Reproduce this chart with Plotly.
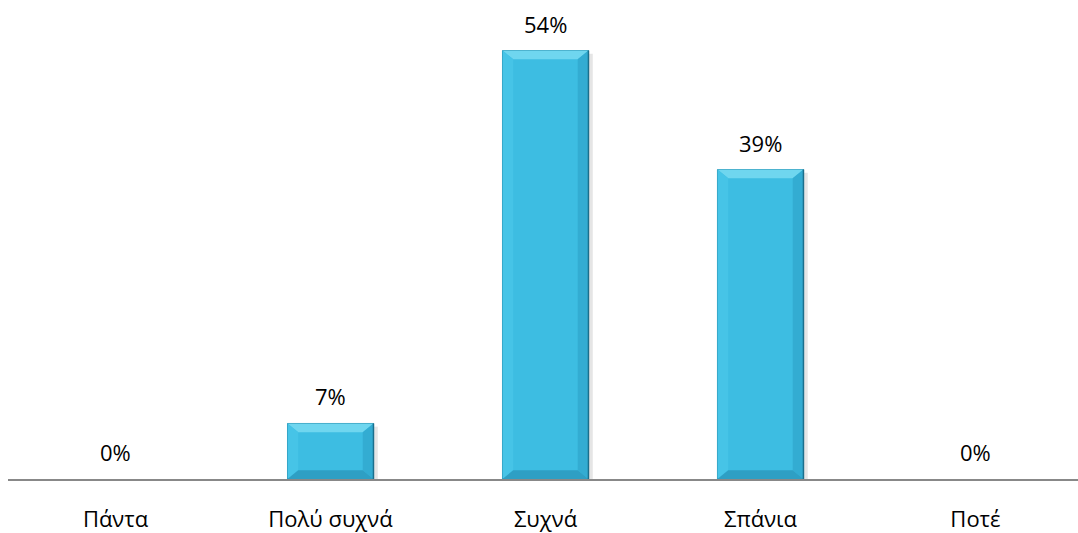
import plotly.graph_objects as go

categories = ["Πάντα", "Πολύ συχνά", "Συχνά", "Σπάνια", "Ποτέ"]
values = [0, 7, 54, 39, 0]
labels = ["0%", "7%", "54%", "39%", "0%"]

FONT = "'Open Sans', sans-serif"
BAR_W = 0.4
fig = go.Figure()

fig.add_trace(go.Bar(
    x=categories, y=values, width=BAR_W,
    marker=dict(color="#3dbde2",
                line=dict(color="#2288a8", width=[0 if v == 0 else 1 for v in values])),
    hoverinfo="x+y",
))

# bevel facets and a soft shadow, derived from each bar's position and height
idx = list(range(len(categories)))
dx = 0.05      # horizontal bevel depth (category units)
bevel = 1.1    # vertical bevel depth (% units)
for i, v in zip(idx, values):
    if v <= 0:
        continue
    l, r = i - BAR_W / 2, i + BAR_W / 2
    # shadow on the right side
    fig.add_shape(type="rect", xref="x", yref="y", layer="below",
                  x0=r, x1=r + 0.02, y0=0, y1=v - 0.4,
                  fillcolor="rgba(0,0,0,0.10)", line=dict(width=0))
    # top facet
    fig.add_shape(type="path", xref="x", yref="y",
                  path=f"M {l} {v} L {r} {v} L {r-dx} {v-bevel} L {l+dx} {v-bevel} Z",
                  fillcolor="#6fd6ef", line=dict(width=0))
    # right facet
    fig.add_shape(type="path", xref="x", yref="y",
                  path=f"M {r} {v} L {r} 0 L {r-dx} {bevel} L {r-dx} {v-bevel} Z",
                  fillcolor="#33acd2", line=dict(width=0))
    # left facet
    fig.add_shape(type="path", xref="x", yref="y",
                  path=f"M {l} {v} L {l} 0 L {l+dx} {bevel} L {l+dx} {v-bevel} Z",
                  fillcolor="#46c4e7", line=dict(width=0))
    # bottom facet
    fig.add_shape(type="path", xref="x", yref="y",
                  path=f"M {l} 0 L {r} 0 L {r-dx} {bevel} L {l+dx} {bevel} Z",
                  fillcolor="#2e9fc4", line=dict(width=0))
    # dark outer edge on the right
    fig.add_shape(type="line", xref="x", yref="y",
                  x0=r, x1=r, y0=0, y1=v,
                  line=dict(color="#1b6f8c", width=1.5))

for c, v, t in zip(categories, values, labels):
    fig.add_annotation(x=c, y=v, text=t, showarrow=False, yanchor="bottom",
                       yshift=10, font=dict(family=FONT, size=22, color="#000"))

fig.update_layout(
    width=1078, height=533,
    margin=dict(l=8, r=0, t=3, b=54),
    paper_bgcolor="white", plot_bgcolor="white",
    showlegend=False, bargap=0.6,
    xaxis=dict(range=[-0.5, 4.477], showgrid=False, showline=True,
               linecolor="#888888", linewidth=2, ticks="", automargin=False,
               ticklabelstandoff=20,
               tickfont=dict(family=FONT, size=22, color="#000")),
    yaxis=dict(range=[0, 60], visible=False),
)

fig.write_html("out.html")
